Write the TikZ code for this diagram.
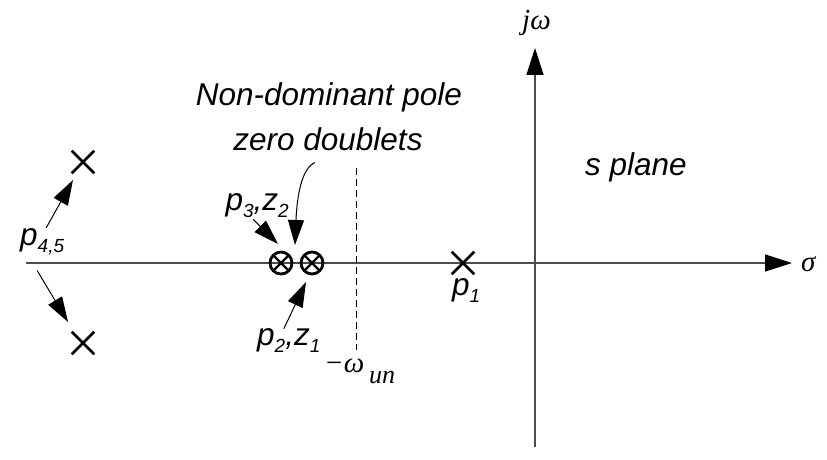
\documentclass[tikz,border=0pt]{standalone}
\usepackage{fontspec}
\setmainfont{Liberation Sans}
\newfontfamily\tms{Liberation Serif}
\usetikzlibrary{arrows.meta,shapes.misc}
\newcommand{\lowsub}[1]{\raisebox{-7pt}{\fontsize{19}{19}\selectfont #1}}
\tikzset{
  lbl/.style={inner sep=0pt, font=\fontsize{31.5}{36}\selectfont\itshape},
  mlbl/.style={inner sep=0pt, font=\tms\itshape\fontsize{29}{32}\selectfont},
  axis/.style={draw=black!70, line width=1.4pt, -{Triangle[length=27pt,width=17pt,black]}},
  arr/.style={draw=black, line width=1pt, -{Triangle[length=25pt,width=16pt]}},
  xmark/.style={cross out, draw=black, line width=2.6pt, minimum size=20pt, inner sep=0pt},
  dblt/.style={circle, draw=black, line width=2.8pt, minimum size=22pt, inner sep=0pt,
    path picture={\draw[line width=2.2pt] (path picture bounding box.north west) -- (path picture bounding box.south east)
      (path picture bounding box.north east) -- (path picture bounding box.south west);}},
  vline/.style={draw=black, line width=1pt, dash pattern=on 7pt off 4pt}
}
\begin{document}
\begin{tikzpicture}[x=1pt,y=-1pt]
\useasboundingbox[fill=white] (0,0) rectangle (827,460);
% axes
\coordinate (hl) at (26,263);
\coordinate (hr) at (792,263);
\coordinate (vb) at (535,447);
\coordinate (vt) at (535,48);
\draw[axis] (hl) -- (hr);
\draw[axis] (vb) -- (vt);
\node[mlbl, anchor=base west] (jw) at (522,30) {jω};
\node[mlbl, anchor=base west] (sig) at (801,271) {σ};
% dashed line
\coordinate (d1) at (356,168);
\coordinate (d2) at (356,350);
\draw[vline] (d1) -- (d2);
\node[mlbl, anchor=base west] (wun) at (324,372) {−ω\,\raisebox{-11pt}{\fontsize{26}{26}\selectfont un}};
% poles
\node[xmark] (p4) at (83,162) {};
\node[xmark] (p5) at (83,343) {};
\node[xmark] (p1) at (463,263) {};
\node[dblt] (c1) at (281,263) {};
\node[dblt] (c2) at (312,263) {};
% labels
\node[lbl, anchor=base west] (l45) at (20,245) {p\lowsub{4,5}};
\node[lbl, anchor=base west] (l1) at (452,295) {p\lowsub{1}};
\node[lbl, anchor=base east] (l32) at (289,210) {p\lowsub{3},z\lowsub{2}};
\node[lbl, anchor=base west] (l21) at (257,345) {p\lowsub{2},z\lowsub{1}};
\node[lbl, anchor=base] (t1) at (329,105) {Non-dominant pole};
\node[lbl, anchor=base] (t2) at (328,150) {zero doublets};
\node[lbl, anchor=base west] (sp) at (585,175) {s plane};
% arrows
\draw[arr] ([xshift=4pt]l45.north) -- ([xshift=-10pt,yshift=-18pt]p4.center);
\draw[arr] ([xshift=-5pt,yshift=-16pt]l45.south) -- ([xshift=-15pt,yshift=21pt]p5.center);
\draw[arr] ([xshift=-4pt,yshift=-2pt]l32.south) -- ([xshift=-3pt,yshift=19pt]c1.center);
\draw[arr] ([xshift=-5pt,yshift=-1pt]l21.north) -- ([xshift=-6pt,yshift=-19pt]c2.center);
\draw[arr] ([xshift=-13pt,yshift=-12pt]t2.south) .. controls (302,168) and (297,195) .. ([xshift=14pt,yshift=18pt]c1.center);
\end{tikzpicture}
\end{document}
